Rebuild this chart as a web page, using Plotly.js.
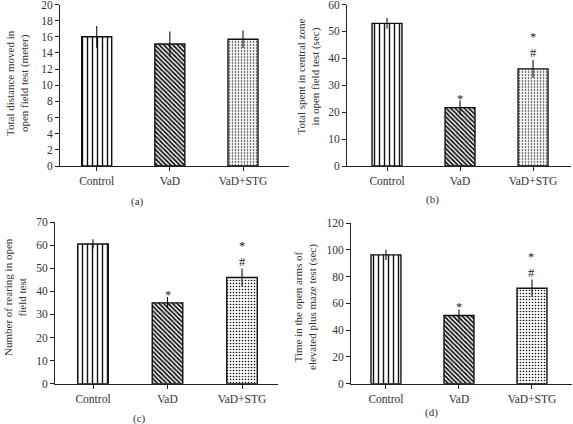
<!DOCTYPE html>
<html>
<head>
<meta charset="utf-8">
<script src="https://cdn.plot.ly/plotly-3.0.1.min.js"></script>
<style>html,body{margin:0;padding:0;background:#fff;}#chart{width:573px;height:424px;}</style>
</head>
<body>
<div id="chart"></div>
<script>
// ---- data ----
const groups = ["Control", "VaD", "VaD+STG"];

const distanceMean = [16.0, 15.1, 15.7];
const distanceErr  = [1.35, 1.57, 1.08];
const distanceSig  = ["", "", ""];

const centralMean = [53.0, 21.7, 36.1];
const centralErr  = [2.0, 2.6, 3.3];
const centralSig  = ["", "*", "*<br>#"];

const rearingMean = [60.5, 35.0, 46.0];
const rearingErr  = [2.0, 2.5, 3.9];
const rearingSig  = ["", "*", "*<br>#"];

const openArmMean = [96.2, 50.9, 71.3];
const openArmErr  = [3.8, 4.6, 6.6];
const openArmSig  = ["", "*", "*<br>#"];

const panelLabels = ["(a)", "(b)", "(c)", "(d)"];
const yTitles = [
  "Total distance moved in<br>open field test (meter)",
  "Total spent in central zone<br>in open field test (sec)",
  "Number of rearing in open<br>field test",
  "Time in the open arms of<br>elevated plus maze test (sec)"
];
const yMax  = [20, 60, 70, 120];
const yStep = [2, 10, 10, 20];

// ---- layout helpers (pixel geometry) ----
const W = 573, H = 424;
const px = v => v / W;
const py = v => 1 - v / H;

const panels = [
  {mean: distanceMean, err: distanceErr, sig: distanceSig, xd: [60, 289], yd: [166, 4.5], xr: [-0.502, 2.629], title: {x: 17, y: 83}, lab: {x: 137, y: 202}},
  {mean: centralMean, err: centralErr, sig: centralSig, xd: [347, 571], yd: [166, 4.5], xr: [-0.548, 2.52], title: {x: 307.5, y: 77}, lab: {x: 432, y: 199}},
  {mean: rearingMean, err: rearingErr, sig: rearingSig, xd: [55, 278], yd: [383.7, 222], xr: [-0.51, 2.483], title: {x: 15, y: 297}, lab: {x: 139, y: 418}},
  {mean: openArmMean, err: openArmErr, sig: openArmSig, xd: [351, 572], yd: [383.7, 223], xr: [-0.479, 2.548], title: {x: 305, y: 307}, lab: {x: 431, y: 412}}
];

const FONT = "Liberation Serif, Times New Roman, serif";
const patternShapes = ["|", "\\", "."];
const patternSizes  = [5, 3.2, 3];
const patternSolid  = [0.28, 0.55, 0.24];

const traces = [];
const layout = {
  width: W, height: H,
  margin: {l: 0, r: 0, t: 0, b: 0},
  paper_bgcolor: "#fff", plot_bgcolor: "#fff",
  showlegend: false,
  bargap: 0.59,
  font: {family: FONT, size: 11.5, color: "#333"},
  annotations: []
};

panels.forEach((p, i) => {
  const n = i === 0 ? "" : String(i + 1);
  traces.push({
    type: "bar",
    x: groups, y: p.mean,
    xaxis: "x" + n, yaxis: "y" + n,
    marker: {
      color: "#fff",
      line: {color: "#111", width: 1.4},
      pattern: {shape: patternShapes, size: patternSizes, solidity: patternSolid, fgcolor: "#111", bgcolor: "#fff", fillmode: "replace"}
    },
    error_y: {type: "data", array: p.err, visible: true, color: "#111", thickness: 1.1, width: 0},
    hoverinfo: "none"
  });
  layout["xaxis" + n] = {
    domain: [px(p.xd[0]), px(p.xd[1])],
    anchor: "y" + n,
    range: p.xr,
    type: "category",
    showline: true, linecolor: "#222", linewidth: 1,
    ticks: "outside", ticklen: 4, tickcolor: "#222",
    showgrid: false, zeroline: false,
    ticklabeloverflow: "allow",
    tickfont: {family: FONT, size: 11.5, color: "#333"}
  };
  layout["yaxis" + n] = {
    domain: [py(p.yd[0]), py(p.yd[1])],
    anchor: "x" + n,
    range: [0, yMax[i]],
    dtick: yStep[i], tick0: 0,
    showline: true, linecolor: "#222", linewidth: 1,
    ticks: "outside", ticklen: 4, tickcolor: "#222",
    showgrid: false, zeroline: false,
    ticklabeloverflow: "allow",
    tickfont: {family: FONT, size: 11.5, color: "#333"}
  };
  // y-axis title
  layout.annotations.push({
    xref: "paper", yref: "paper",
    x: px(p.title.x), y: py(p.title.y),
    xanchor: "center", yanchor: "middle",
    text: yTitles[i], textangle: -90, showarrow: false,
    font: {family: FONT, size: 11, color: "#333"}
  });
  // panel label
  layout.annotations.push({
    xref: "paper", yref: "paper",
    x: px(p.lab.x), y: py(p.lab.y),
    xanchor: "center", yanchor: "middle",
    text: panelLabels[i], showarrow: false,
    font: {family: FONT, size: 11, color: "#333"}
  });
  // significance marks
  p.sig.forEach((s, k) => {
    if (!s) return;
    const top = p.mean[k] + p.err[k];
    const stacked = s.indexOf("#") >= 0;
    layout.annotations.push({
      xref: "x" + n, yref: "y" + n, x: groups[k], y: top,
      xanchor: "center", yanchor: stacked ? "bottom" : "middle",
      yshift: stacked ? -2.5 : 2,
      text: s, showarrow: false,
      font: {family: FONT, size: 12.5, color: "#222"}
    });
  });
});

Plotly.newPlot("chart", traces, layout, {staticPlot: true, displayModeBar: false});
</script>
</body>
</html>
